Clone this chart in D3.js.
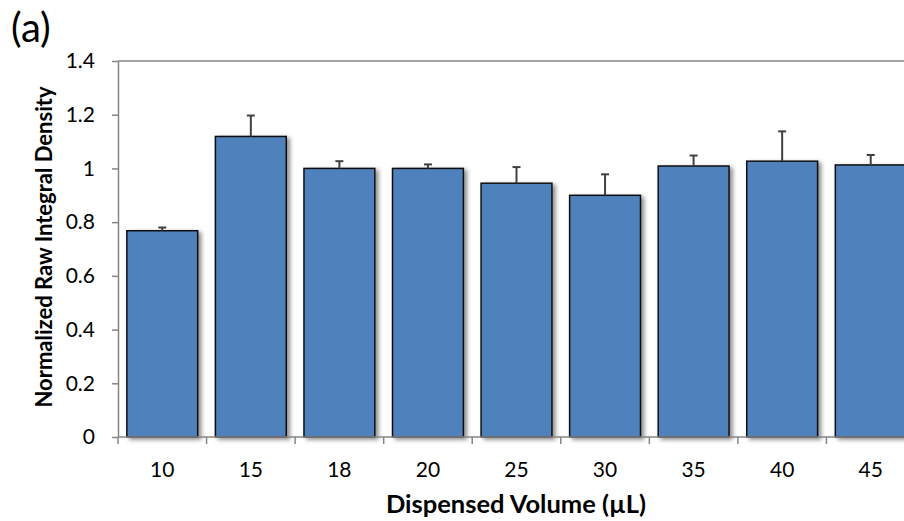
<!DOCTYPE html>
<html>
<head>
<meta charset="utf-8">
<script src="https://cdn.jsdelivr.net/npm/d3@7"></script>
<style>
  body { margin: 0; background: #fff; }
  text { font-family: Lato, "Open Sans", sans-serif; fill: #000; }
</style>
</head>
<body>
<div id="chart"></div>
<script>
// values
const volumes = ["10", "15", "18", "20", "25", "30", "35", "40", "45"];
const density = [0.768, 1.119, 1.0, 1.0, 0.945, 0.900, 1.009, 1.027, 1.013];
const errUp = [0.012, 0.078, 0.027, 0.015, 0.060, 0.078, 0.039, 0.111, 0.037];
const yTicks = [0, 0.2, 0.4, 0.6, 0.8, 1, 1.2, 1.4];

const width = 904, height = 521;
const margin = {top: 61, left: 118, bottom: 84};
const plotW = 797; // runs past the right edge, like the reference
const plotH = height - margin.top - margin.bottom;

const svg = d3.select("#chart").append("svg")
    .attr("width", width)
    .attr("height", height);

const defs = svg.append("defs");
const shadow = defs.append("filter").attr("id", "shadow")
    .attr("x", "-10%").attr("y", "-10%").attr("width", "130%").attr("height", "130%");
shadow.append("feDropShadow")
    .attr("dx", 3).attr("dy", 2).attr("stdDeviation", 2)
    .attr("flood-color", "#000").attr("flood-opacity", 0.45);

const x = d3.scaleBand().domain(volumes).range([0, plotW]).paddingInner(0.2).paddingOuter(0.1);
const y = d3.scaleLinear().domain([0, 1.4]).range([plotH, 0]);

const g = svg.append("g").attr("transform", `translate(${margin.left},${margin.top})`);

// top frame line
g.append("line")
    .attr("x1", 0).attr("x2", plotW)
    .attr("y1", 0).attr("y2", 0)
    .attr("stroke", "#868686").attr("stroke-width", 1.5);

// bars
g.append("g").selectAll("rect")
    .data(volumes)
    .join("rect")
    .attr("x", d => x(d))
    .attr("y", (d, i) => y(density[i]))
    .attr("width", x.bandwidth())
    .attr("height", (d, i) => plotH - y(density[i]))
    .attr("fill", "#4F81BD")
    .attr("stroke", "#111")
    .attr("stroke-width", 1.5)
    .attr("filter", "url(#shadow)");

// error bars (upper only)
const eb = g.append("g").attr("stroke", "#404040").attr("stroke-width", 2);
volumes.forEach((v, i) => {
    const cx = x(v) + x.bandwidth() / 2;
    eb.append("line")
        .attr("x1", cx).attr("x2", cx)
        .attr("y1", y(density[i])).attr("y2", y(density[i] + errUp[i]));
    eb.append("line")
        .attr("x1", cx - 4).attr("x2", cx + 4)
        .attr("y1", y(density[i] + errUp[i])).attr("y2", y(density[i] + errUp[i]));
});

// y axis
const yAxis = d3.axisLeft(y).tickValues(yTicks).tickSize(6).tickSizeOuter(0)
    .tickFormat(d => d3.format("")(+d.toFixed(1)));
const yG = g.append("g").call(yAxis);
yG.select(".domain").attr("stroke", "#868686").attr("stroke-width", 1.5);
yG.selectAll(".tick line").attr("stroke", "#868686").attr("stroke-width", 1.5);
yG.selectAll(".tick text")
    .attr("x", -23)
    .style("font-size", "21px")
    .attr("fill", "#000");

// x axis: ticks at category boundaries
const xG = g.append("g").attr("transform", `translate(0,${plotH})`);
xG.append("line")
    .attr("x1", 0).attr("x2", plotW)
    .attr("stroke", "#868686").attr("stroke-width", 1.5);
const step = x.step();
const bounds = d3.range(volumes.length + 1).map(i => i * step);
xG.selectAll(".bound")
    .data(bounds)
    .join("line")
    .attr("x1", d => d).attr("x2", d => d)
    .attr("y1", 0).attr("y2", 7)
    .attr("stroke", "#868686").attr("stroke-width", 1.5);
xG.selectAll(".lbl")
    .data(volumes)
    .join("text")
    .attr("x", d => x(d) + x.bandwidth() / 2)
    .attr("y", 40)
    .attr("text-anchor", "middle")
    .style("font-size", "21px")
    .text(d => d);

// titles
svg.append("text")
    .attr("transform", `translate(52,${margin.top + plotH / 2 - 2}) rotate(-90)`)
    .attr("text-anchor", "middle")
    .style("font-size", "22px")
    .style("font-weight", "bold")
    .text("Normalized Raw Integral Density");

svg.append("text")
    .attr("x", 516).attr("y", 513)
    .attr("text-anchor", "middle")
    .style("font-size", "25.5px")
    .style("font-weight", "bold")
    .text("Dispensed Volume (µL)");

svg.append("text")
    .attr("x", 11).attr("y", 42)
    .style("font-size", "40px")
    .text("(a)");
</script>
</body>
</html>
